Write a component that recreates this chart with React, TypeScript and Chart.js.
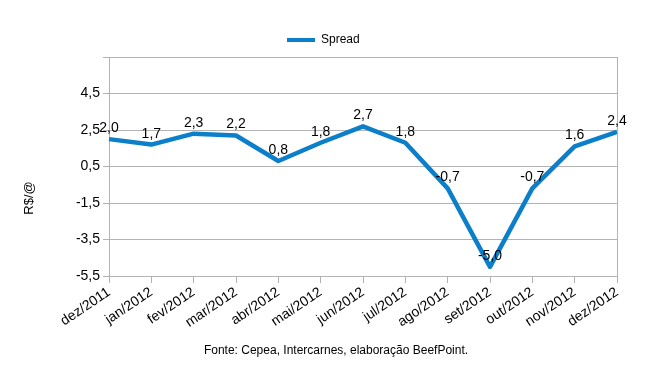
import React, { useEffect, useRef } from "react";
import { Chart, registerables } from "chart.js";

Chart.register(...registerables);

const categories = [
  "dez/2011", "jan/2012", "fev/2012", "mar/2012", "abr/2012", "mai/2012", "jun/2012",
  "jul/2012", "ago/2012", "set/2012", "out/2012", "nov/2012", "dez/2012",
];
const spreadValues = [2.0, 1.7, 2.3, 2.2, 0.8, 1.8, 2.7, 1.8, -0.7, -5.0, -0.7, 1.6, 2.4];
const seriesName = "Spread";
const yAxisTitle = "R$/@";
const footerText = "Fonte: Cepea, Intercarnes, elaboração BeefPoint.";
const yMin = -5.5;
const yMax = 6.5;
const yStep = 2;

const LINE_COLOR = "#0b7fca";
const GRID_COLOR = "#b3b3b3";
const FONT = "'Liberation Sans', Arial, sans-serif";

const fmt = (v: number) => v.toFixed(1).replace(".", ",");

export default function App() {
  const ref = useRef<HTMLCanvasElement | null>(null);

  useEffect(() => {
    document.body.style.margin = "0";
    const canvas = ref.current;
    if (!canvas) return;

    const extras = {
      id: "extras",
      afterDatasetsDraw(chart: any) {
        const ctx = chart.ctx;
        const area = chart.chartArea;
        ctx.save();
        // right border
        ctx.strokeStyle = GRID_COLOR;
        ctx.lineWidth = 1;
        ctx.beginPath();
        ctx.moveTo(Math.round(area.right) + 0.5, area.top);
        ctx.lineTo(Math.round(area.right) + 0.5, area.bottom);
        ctx.stroke();
        // data labels
        const meta = chart.getDatasetMeta(0);
        ctx.fillStyle = "#000";
        ctx.font = `14px ${FONT}`;
        ctx.textAlign = "center";
        ctx.textBaseline = "alphabetic";
        meta.data.forEach((pt: any, i: number) => {
          ctx.fillText(fmt(spreadValues[i]), pt.x, pt.y - 7);
        });
        ctx.restore();
      },
      afterDraw(chart: any) {
        const ctx = chart.ctx;
        ctx.save();
        // legend
        ctx.strokeStyle = LINE_COLOR;
        ctx.lineWidth = 4;
        ctx.beginPath();
        ctx.moveTo(287, 40);
        ctx.lineTo(315, 40);
        ctx.stroke();
        ctx.fillStyle = "#000";
        ctx.font = `12px ${FONT}`;
        ctx.textAlign = "left";
        ctx.textBaseline = "middle";
        ctx.fillText(seriesName, 321, 40);
        // y title
        ctx.save();
        ctx.translate(29, 198);
        ctx.rotate(-Math.PI / 2);
        ctx.textAlign = "center";
        ctx.textBaseline = "middle";
        ctx.font = `13px ${FONT}`;
        ctx.fillText(yAxisTitle, 0, 0);
        ctx.restore();
        // footer
        ctx.textAlign = "center";
        ctx.textBaseline = "middle";
        ctx.font = `12px ${FONT}`;
        ctx.fillText(footerText, 336, 351);
        ctx.restore();
      },
    };

    const chart = new Chart(canvas, {
      type: "line",
      data: {
        labels: categories,
        datasets: [
          {
            label: seriesName,
            data: spreadValues,
            borderColor: LINE_COLOR,
            backgroundColor: LINE_COLOR,
            borderWidth: 4.5,
            pointRadius: 0,
            tension: 0,
            borderJoinStyle: "round",
          },
        ],
      },
      options: {
        animation: false,
        responsive: false,
        maintainAspectRatio: false,
        layout: { padding: { left: 0, right: 31, top: 57, bottom: 0 } },
        plugins: {
          legend: { display: false },
          tooltip: { enabled: false },
          title: { display: false },
        },
        scales: {
          x: {
            type: "category",
            offset: false,
            grid: {
              display: true,
              drawOnChartArea: false,
              drawTicks: true,
              tickLength: 7,
              color: GRID_COLOR,
            },
            border: { display: true, color: GRID_COLOR },
            ticks: {
              autoSkip: false,
              maxRotation: 34,
              minRotation: 34,
              padding: 1,
              color: "#000",
              font: { family: FONT, size: 14 },
            },
            afterFit(scale: any) {
              scale.height = 102;
            },
          },
          y: {
            min: yMin,
            max: yMax,
            grid: {
              color: GRID_COLOR,
              drawTicks: true,
              tickLength: 6,
            },
            border: { display: true, color: GRID_COLOR },
            ticks: {
              stepSize: yStep,
              padding: 3,
              color: "#000",
              font: { family: FONT, size: 14 },
              callback: (v: any) => (Math.abs(Number(v) - yMax) < 1e-6 ? "" : fmt(Number(v))),
            },
            afterFit(scale: any) {
              scale.width = 109;
            },
          },
        },
      },
      plugins: [extras],
    });

    return () => chart.destroy();
  }, []);

  return (
    <div style={{ position: "absolute", left: 0, top: 0, width: 648, height: 378, background: "#fff" }}>
      <canvas ref={ref} width={648} height={378} style={{ display: "block" }} />
    </div>
  );
}
